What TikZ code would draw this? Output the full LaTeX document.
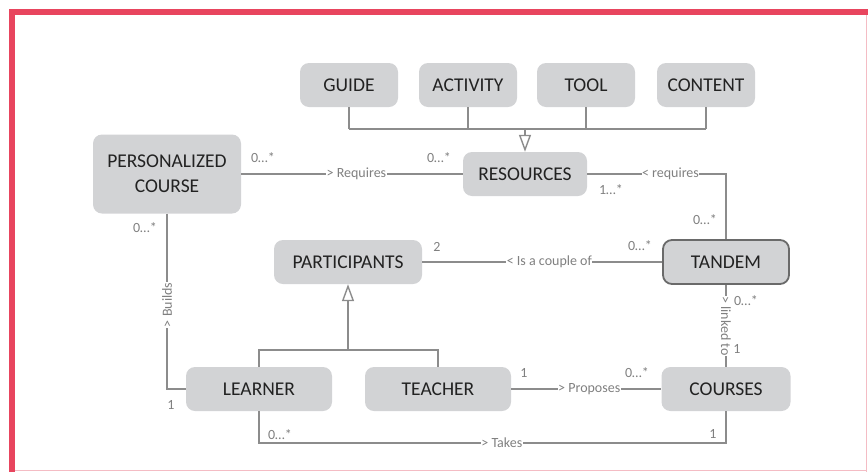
\documentclass[tikz,border=0pt]{standalone}
\usepackage{fontspec}
\setmainfont{Carlito}
\usepackage{xcolor}
\usepackage{tikz}
\usetikzlibrary{arrows.meta}
\definecolor{frame}{HTML}{E8455E}
\definecolor{framel}{HTML}{F4BCC4}
\definecolor{boxbg}{HTML}{D2D3D5}
\definecolor{ink}{HTML}{222222}
\definecolor{linec}{HTML}{8C8C8C}
\definecolor{muted}{HTML}{808080}
\definecolor{rim}{HTML}{6A6A6A}
\tikzset{
  cls/.style={fill=boxbg, rounded corners=9pt, text=ink, font=\fontsize{19.5}{25}\selectfont, align=center, minimum height=44pt, inner sep=0pt},
  clsb/.style={cls, draw=rim, line width=1.8pt},
  wire/.style={draw=linec, line width=1.4pt},
  gen/.style={wire, -{Triangle[open, length=17pt, width=12pt, fill=white]}},
  lab/.style={text=muted, font=\fontsize{14}{16}\selectfont, fill=white, inner xsep=0.5pt, inner ysep=1pt},
  mult/.style={text=muted, font=\fontsize{14}{16}\selectfont, inner sep=0pt},
}

\begin{document}
\begin{tikzpicture}[x=1pt, y=1pt]
  \useasboundingbox (0,0) rectangle (868,-472);
  % frame
  \fill[frame] (9,-9) rectangle (868,-15);
  \fill[frame] (9,-9) rectangle (15,-472);
  \draw[framel, line width=1pt] (866,-15) -- (866,-472);
  \draw[framel, line width=1pt] (15,-470.5) -- (866,-470.5);

  % resource kinds
  \foreach \n/\x/\t in {guide/349/GUIDE, activity/468/ACTIVITY, tool/586/TOOL, content/706/CONTENT}{
    \node[cls, minimum width=98pt] (\n) at (\x,-85) {\t};
  }
  \node[cls, minimum width=124pt] (resources) at (525,-174) {RESOURCES};
  \node[cls, minimum width=148pt, minimum height=79pt] (pcourse) at (167,-174) {PERSONALIZED\\COURSE};
  \node[cls, minimum width=148pt] (participants) at (348,-262) {PARTICIPANTS};
  \node[clsb, minimum width=126pt] (tandem) at (726,-262) {TANDEM};
  \node[cls, minimum width=146pt] (learner) at (259,-389) {LEARNER};
  \node[cls, minimum width=146pt] (teacher) at (438,-389) {TEACHER};
  \node[cls, minimum width=129pt] (courses) at (726,-389) {COURSES};

  % generalisations
  \coordinate (rbus) at (525,-129);
  \coordinate (pbus) at (348,-350);
  \foreach \n in {guide,activity,tool,content}{
    \draw[wire] (\n.south) -- (\n.south |- rbus);
  }
  \draw[wire] (guide.south |- rbus) -- (content.south |- rbus);
  \draw[gen] (rbus) -- (resources.north);
  \draw[wire] (learner.north) |- (pbus);
  \draw[wire] (teacher.north) |- (pbus);
  \draw[gen] (pbus) -- (participants.south);

  % associations
  \draw[wire] (pcourse.east) -- node[lab, pos=0.52] (lreq) {> Requires} (resources.west);
  \draw[wire] (resources.east) -| node[lab, pos=0.3] (lreq2) {< requires} (tandem.north);
  \draw[wire] (participants.east) -- node[lab, pos=0.53] (lcpl) {< Is a couple of} (tandem.west);
  \draw[wire] (pcourse.south) |- node[lab, rotate=90, pos=0.26] (lbld) {> Builds} (learner.west);
  \draw[wire] (tandem.south) -- node[lab, rotate=-90] (llnk) {> linked to} (courses.north);
  \draw[wire] (teacher.east) -- node[lab, pos=0.52] (lprp) {> Proposes} (courses.west);
  \coordinate (tkturn) at (726,-443);
  \draw[wire] (learner.south) |- node[lab, pos=0.76] (ltk) {> Takes} (tkturn) -- (courses.south);

  % multiplicities
  \node[mult] (m1) at (263,-158) {0…*};
  \node[mult] (m2) at (439,-158) {0…*};
  \node[mult] (m3) at (611,-190) {1…*};
  \node[mult] (m4) at (705,-220) {0…*};
  \node[mult] (m5) at (145,-228) {0…*};
  \node[mult] (m6) at (437,-247) {2};
  \node[mult] (m7) at (640,-246) {0…*};
  \node[mult] (m8) at (746,-301) {0…*};
  \node[mult] (m9) at (737,-349) {1};
  \node[mult] (m10) at (524,-373) {1};
  \node[mult] (m11) at (637,-373) {0…*};
  \node[mult] (m12) at (171,-405) {1};
  \node[mult] (m13) at (280,-435) {0…*};
  \node[mult] (m14) at (713,-434) {1};
\end{tikzpicture}
\end{document}
